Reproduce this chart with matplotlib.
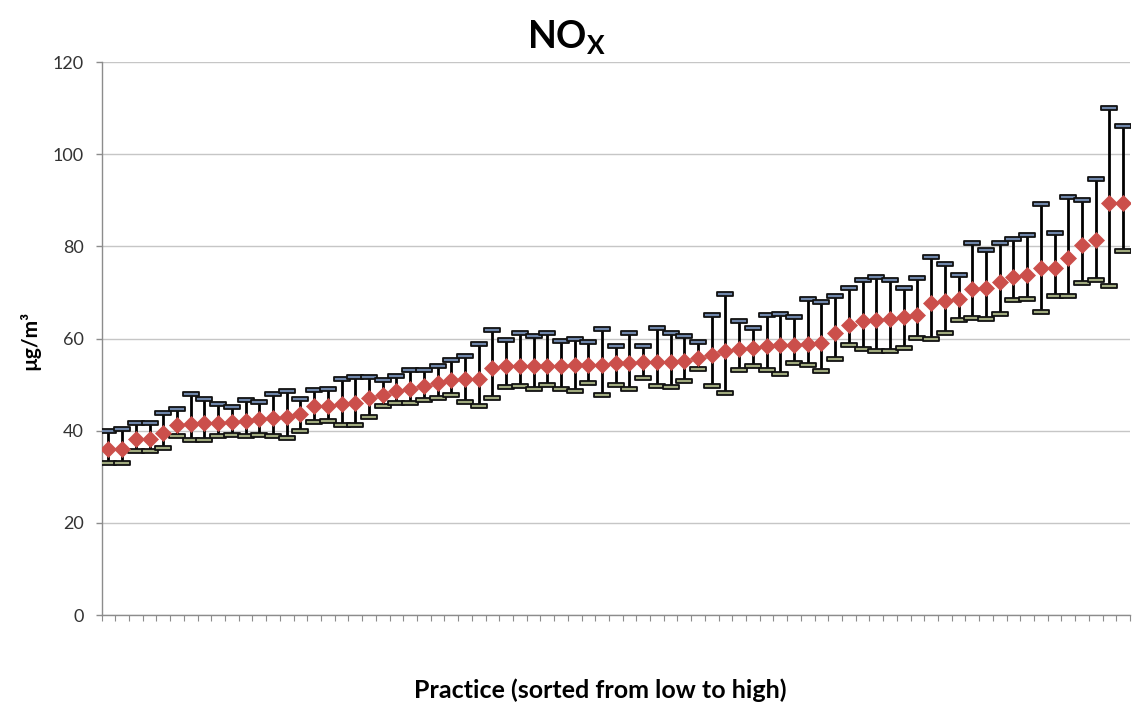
import numpy as np
import matplotlib
matplotlib.use("Agg")
import matplotlib.pyplot as plt
from matplotlib.path import Path

plt.rcParams['font.family'] = ['Lato', 'DejaVu Sans']

# Data (practices sorted from low to high), values in ug/m3
mean_vals = [36.0, 36.0, 38.3, 38.3, 39.6, 41.3, 41.5, 41.7, 41.7, 41.8,
             42.0, 42.5, 42.8, 43.0, 43.6, 45.3, 45.4, 45.7, 45.9, 47.1,
             47.8, 48.6, 49.1, 49.8, 50.4, 51.1, 51.2, 51.2, 53.6, 54.0,
             54.1, 54.1, 54.1, 54.1, 54.3, 54.3, 54.3, 54.7, 54.7, 54.9,
             54.9, 55.0, 55.1, 55.7, 56.4, 57.2, 57.8, 58.0, 58.3, 58.6,
             58.7, 58.8, 59.0, 61.2, 62.9, 63.8, 64.1, 64.3, 64.6, 65.2,
             67.6, 68.1, 68.5, 70.7, 70.9, 72.3, 73.4, 73.7, 75.4, 75.4,
             77.4, 80.4, 81.4, 89.3, 89.3]
upper_vals = [39.9, 40.4, 41.7, 41.7, 43.8, 44.8, 48.0, 46.9, 45.7, 45.1,
              46.6, 46.2, 48.0, 48.6, 46.9, 48.8, 49.1, 51.3, 51.7, 51.6,
              51.1, 51.8, 53.1, 53.1, 54.1, 55.4, 56.3, 58.8, 61.9, 59.6,
              61.1, 60.5, 61.2, 59.4, 59.9, 59.2, 62.0, 58.4, 61.2, 58.3,
              62.2, 61.3, 60.5, 59.2, 65.1, 69.7, 63.8, 62.2, 65.0, 65.4,
              64.6, 68.5, 68.0, 69.2, 70.9, 72.7, 73.4, 72.8, 70.9, 73.1,
              77.6, 76.1, 73.8, 80.7, 79.3, 80.7, 81.7, 82.5, 89.1, 82.8,
              90.8, 90.1, 94.6, 110.0, 106.2]
lower_vals = [33.0, 33.0, 35.5, 35.5, 36.2, 38.9, 38.0, 38.0, 38.9, 39.1,
              38.9, 39.1, 38.9, 38.4, 40.0, 41.8, 42.2, 41.3, 41.3, 42.9,
              45.4, 45.9, 46.0, 46.7, 47.1, 47.8, 46.2, 45.4, 47.1, 49.5,
              49.8, 49.1, 50.0, 49.1, 48.6, 50.4, 47.8, 50.0, 49.0, 51.4,
              49.6, 49.4, 50.7, 53.3, 49.6, 48.2, 53.1, 54.1, 53.1, 52.4,
              54.6, 54.2, 52.9, 55.6, 58.5, 57.7, 57.3, 57.3, 58.0, 60.2,
              59.8, 61.2, 64.0, 64.5, 64.3, 65.4, 68.3, 68.5, 65.7, 69.2,
              69.2, 72.1, 72.7, 71.4, 79.0]
y_ticks = [0, 20, 40, 60, 80, 100, 120]

n = len(mean_vals)
x = np.arange(n)

fig = plt.figure(figsize=(11.33, 7.04), dpi=100)
ax = fig.add_axes([0.0896, 0.1264, 0.9078, 0.7855])

# gridlines
ax.set_axisbelow(True)
ax.yaxis.grid(True, color='#C6C6C6', linewidth=1.0)

# error bar stems
ax.vlines(x, lower_vals, upper_vals, colors='black', linewidth=2.0, zorder=2)

# rectangular cap markers
cap = Path([(-1, -0.2), (1, -0.2), (1, 0.2), (-1, 0.2), (-1, -0.2)],
           [Path.MOVETO, Path.LINETO, Path.LINETO, Path.LINETO, Path.CLOSEPOLY])
ax.plot(x, upper_vals, linestyle='none', marker=cap, markersize=11,
        markerfacecolor='#6F86AA', markeredgecolor='#111111', markeredgewidth=1.3, zorder=3)
ax.plot(x, lower_vals, linestyle='none', marker=cap, markersize=11,
        markerfacecolor='#A0AA7E', markeredgecolor='#111111', markeredgewidth=1.3, zorder=3)

# means
ax.plot(x, mean_vals, linestyle='none', marker='D', markersize=8.6,
        markerfacecolor='#CB4F4B', markeredgecolor='#CB4F4B', markeredgewidth=0.5, zorder=4)

ax.set_xlim(-0.5, n - 0.5)
ax.set_ylim(0, 120)
ax.set_yticks(y_ticks)
ax.set_yticklabels([str(v) for v in y_ticks])
ax.set_xticks(np.arange(-0.5, n, 1.0))
ax.set_xticklabels([])

for s in ['top', 'right']:
    ax.spines[s].set_visible(False)
for s in ['left', 'bottom']:
    ax.spines[s].set_color('#8C8C8C')
    ax.spines[s].set_linewidth(1.0)

ax.tick_params(axis='y', direction='out', length=4, width=1, color='#8C8C8C',
               labelsize=13, labelcolor='#333333', pad=9)
ax.tick_params(axis='x', direction='out', length=4, width=0.8, color='#8C8C8C')

fig.text(567 / 1133, 1 - 38 / 704, r'NO$_\mathregular{X}$', ha='center', va='center',
         fontsize=27, fontweight='bold', color='black')
fig.text(30 / 1133, 1 - 340 / 704, 'µg/m³', rotation=90, ha='center', va='center',
         fontsize=15, fontweight='bold', color='black')
fig.text(600 / 1133, 1 - 690 / 704, 'Practice (sorted from low to high)', ha='center',
         va='center', fontsize=18, fontweight='bold', color='black')

fig.savefig('out.png', dpi=100)
